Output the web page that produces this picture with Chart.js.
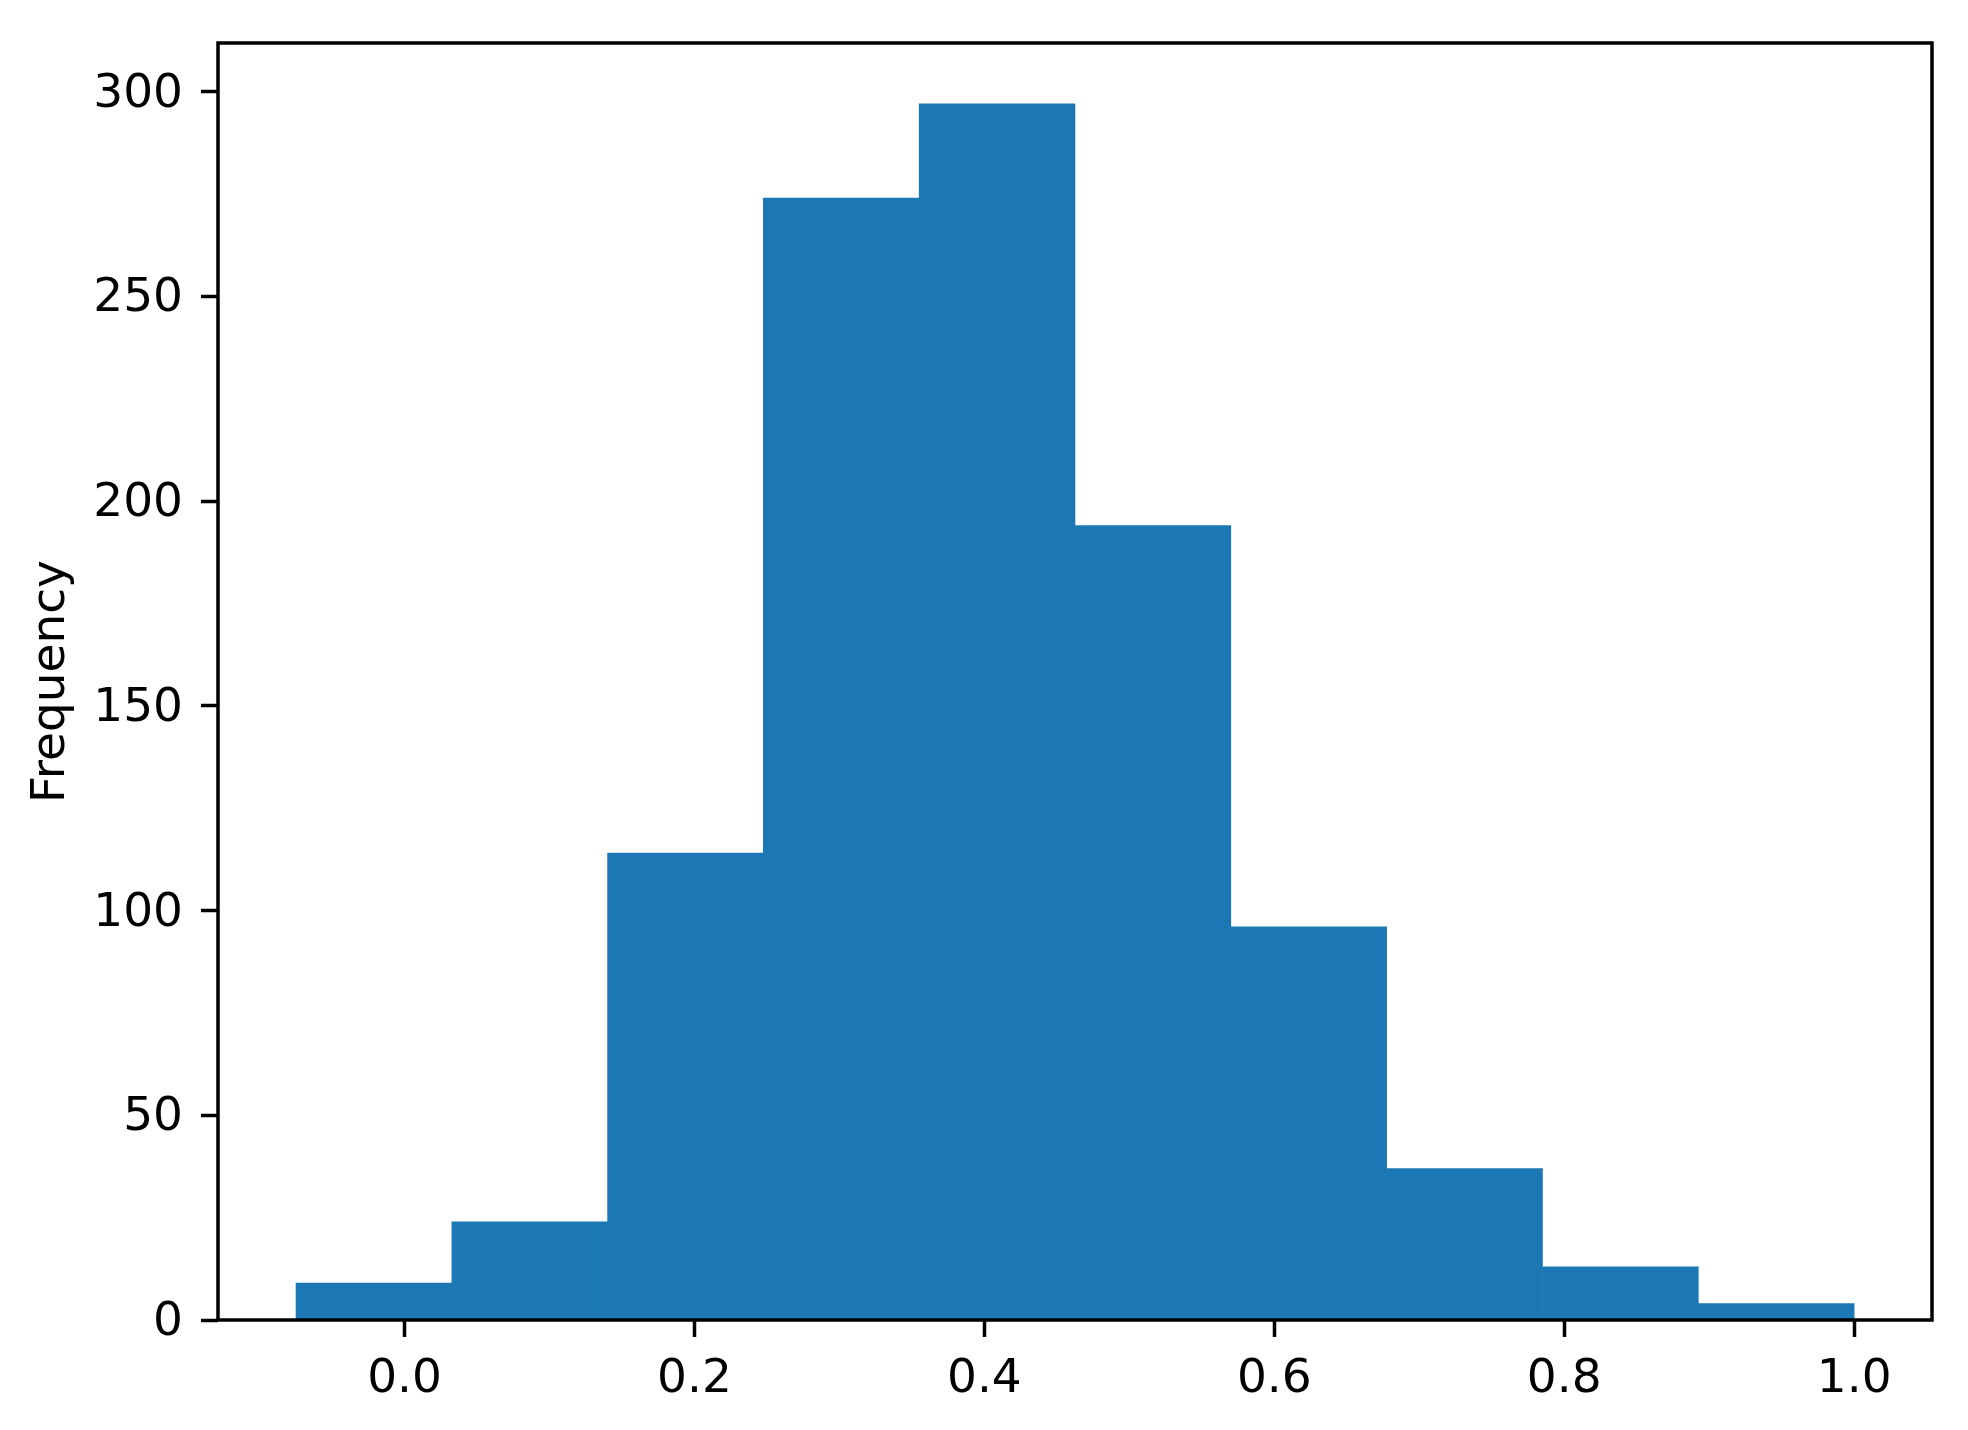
<!DOCTYPE html>
<html>
<head>
<meta charset="utf-8">
<script src="https://cdn.jsdelivr.net/npm/chart.js@4"></script>
<style>
  html, body { margin: 0; padding: 0; background: #fff; }
  canvas { display: block; }
</style>
</head>
<body>
<canvas id="hist_chart" width="1968" height="1430"></canvas>
<script>
const ctx = document.querySelector('#hist_chart')

// histogram bin edges and counts
const binEdges = [-0.0749, 0.0326, 0.1401, 0.2475, 0.3550, 0.4625, 0.5700, 0.6775, 0.7850, 0.8925, 1.0000];
const counts = [9, 24, 114, 274, 297, 194, 96, 37, 13, 4];

const xTicks = [0.0, 0.2, 0.4, 0.6, 0.8, 1.0];
const xTickLabels = ['0.0', '0.2', '0.4', '0.6', '0.8', '1.0'];
const yTicks = [0, 50, 100, 150, 200, 250, 300];
const yTickLabels = ['0', '50', '100', '150', '200', '250', '300'];

const points = counts.map((c, i) => ({ x: (binEdges[i] + binEdges[i + 1]) / 2, y: c }));

const tickFont = { family: 'DejaVu Sans', size: 47 };

// matplotlib-style box around the plot area
const frame = {
    id: 'frame',
    afterDraw(chart) {
        const a = chart.chartArea;
        const c = chart.ctx;
        c.save();
        c.strokeStyle = '#000';
        c.lineWidth = 3.5;
        c.lineJoin = 'miter';
        c.strokeRect(a.left, a.top, a.right - a.left, a.bottom - a.top);
        c.restore();
    }
}

const data = {
    datasets: [
        {
            data: points,
            backgroundColor: '#1b78b5',
            borderWidth: 0,
            barPercentage: 1,
            categoryPercentage: 1
        }
    ]
};

const options = {
    responsive: false,
    animation: false,
    layout: {
        padding: { top: 43, right: 36, bottom: 0, left: 0 }
    },
    plugins: {
        legend: false,
        tooltip: false
    },
    scales: {
        x: {
            type: 'linear',
            offset: false,
            min: -0.1287,
            max: 1.0537,
            grid: {
                offset: false,
                drawOnChartArea: false,
                drawTicks: true,
                tickLength: 17,
                tickWidth: 3.5,
                tickColor: '#000'
            },
            border: { display: false },
            afterBuildTicks: scale => { scale.ticks = xTicks.map(v => ({ value: v })) },
            afterFit: scale => {
                scale.height = 110;
                scale.paddingLeft = 0;
                scale.paddingRight = 0;
            },
            ticks: {
                color: '#000',
                font: tickFont,
                padding: 15,
                maxRotation: 0,
                autoSkip: false,
                callback: (value, i) => xTickLabels[i]
            }
        },
        y: {
            min: 0,
            max: 311.85,
            grid: {
                drawOnChartArea: false,
                drawTicks: true,
                tickLength: 17,
                tickWidth: 3.5,
                tickColor: '#000'
            },
            border: { display: false },
            afterBuildTicks: scale => { scale.ticks = yTicks.map(v => ({ value: v })) },
            afterFit: scale => {
                scale.width = 218;
                scale.paddingTop = 0;
                scale.paddingBottom = 0;
            },
            ticks: {
                color: '#000',
                font: tickFont,
                padding: 18,
                labelOffset: 3,
                autoSkip: false,
                callback: (value, i) => yTickLabels[i]
            },
            title: {
                display: true,
                text: 'Frequency',
                color: '#000',
                font: { family: 'DejaVu Sans', size: 47, lineHeight: 1 },
                padding: { top: 28, bottom: 0 }
            }
        }
    }
}

new Chart(ctx, {
    type: 'bar',
    data: data,
    options: options,
    plugins: [frame]
})
</script>
</body>
</html>
